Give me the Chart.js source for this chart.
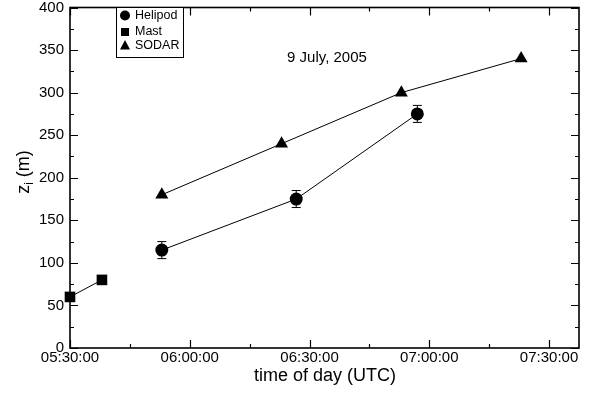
<!DOCTYPE html>
<html lang="en">
<head>
  <meta charset="UTF-8">
  <title>Boundary layer height, 9 July 2005</title>
  <script src="https://cdn.jsdelivr.net/npm/chart.js"></script>
  <style>
    html, body { margin: 0; padding: 0; background: #fff; }
    #wrap { width: 594px; height: 397px; }
  </style>
</head>
<body>
  <div id="wrap"><canvas id="ziChart" width="594" height="397"></canvas></div>

  <script>
    // values (time of day, z_i in m)
    const helipodTimes = ['05:53', '06:26:40', '06:57'];
    const helipodZ = [115, 175, 275];
    const helipodErr = [10, 10, 10];

    const mastTimes = ['05:30', '05:38'];
    const mastZ = [60, 80];

    const sodarTimes = ['05:53', '06:23', '06:53', '07:23'];
    const sodarZ = [180, 240, 300, 340];

    const xTickLabels = ['05:30:00', '06:00:00', '06:30:00', '07:00:00', '07:30:00'];
    const yTickValues = [0, 50, 100, 150, 200, 250, 300, 350, 400];

    // time string -> minutes after midnight
    function toMin(s) {
      const p = s.split(':').map(Number);
      return p[0] * 60 + p[1] + (p[2] || 0) / 60;
    }
    function fmt(m) {
      const h = Math.floor(m / 60), mm = Math.round(m % 60);
      return String(h).padStart(2, '0') + ':' + String(mm).padStart(2, '0') + ':00';
    }
    const pts = (times, vals) => times.map((t, i) => ({ x: toMin(t), y: vals[i] }));

    const FONT = '"Liberation Sans", Arial, Helvetica, sans-serif';

    const decor = {
      id: 'decor',
      beforeDatasetsDraw(chart) {
        // error bars for the helipod
        const ctx = chart.ctx, xs = chart.scales.x, ys = chart.scales.y;
        ctx.save();
        ctx.strokeStyle = '#000';
        ctx.lineWidth = 1;
        helipodTimes.forEach((t, i) => {
          const x = xs.getPixelForValue(toMin(t));
          const y1 = ys.getPixelForValue(helipodZ[i] - helipodErr[i]);
          const y2 = ys.getPixelForValue(helipodZ[i] + helipodErr[i]);
          ctx.beginPath();
          ctx.moveTo(x, y1); ctx.lineTo(x, y2);
          ctx.moveTo(x - 4.5, y1); ctx.lineTo(x + 4.5, y1);
          ctx.moveTo(x - 4.5, y2); ctx.lineTo(x + 4.5, y2);
          ctx.stroke();
        });
        ctx.restore();
      },
      afterDraw(chart) {
        const ctx = chart.ctx, a = chart.chartArea;
        const xs = chart.scales.x, ys = chart.scales.y;
        ctx.save();
        ctx.strokeStyle = '#000';
        ctx.lineWidth = 1.2;

        // inward ticks on all four sides
        ctx.beginPath();
        for (let v = 0; v <= 400; v += 25) {
          const y = Math.round(ys.getPixelForValue(v)) + 0.5;
          const len = v % 50 === 0 ? 8 : 4;
          ctx.moveTo(a.left, y); ctx.lineTo(a.left + len, y);
          ctx.moveTo(a.right, y); ctx.lineTo(a.right - len, y);
        }
        for (let m = 330; m <= 457.5; m += 15) {
          const x = Math.round(xs.getPixelForValue(m)) + 0.5;
          const len = (m - 330) % 30 === 0 ? 8 : 4;
          ctx.moveTo(x, a.bottom); ctx.lineTo(x, a.bottom - len);
          ctx.moveTo(x, a.top); ctx.lineTo(x, a.top + len);
        }
        ctx.stroke();

        // frame
        ctx.lineWidth = 1.6;
        ctx.strokeRect(a.left, a.top, a.right - a.left, a.bottom - a.top);

        // legend box
        const lx = 116, ly = a.top, lw = 67, lh = 50;
        ctx.fillStyle = '#fff';
        ctx.fillRect(lx, ly, lw, lh);
        ctx.lineWidth = 1;
        ctx.strokeRect(lx + 0.5, ly, lw, lh);
        const rows = [15.5, 32, 45.5];
        chart.data.datasets.forEach((ds, i) => {
          const y = rows[i];
          ctx.fillStyle = '#000';
          ctx.beginPath();
          if (ds.pointStyle === 'circle') {
            ctx.arc(125, y, 5, 0, Math.PI * 2);
          } else if (ds.pointStyle === 'rect') {
            ctx.rect(121, y - 4, 8, 8);
          } else {
            ctx.moveTo(125, y - 5.5); ctx.lineTo(130, y + 4); ctx.lineTo(120, y + 4); ctx.closePath();
          }
          ctx.fill();
          ctx.font = '12.5px ' + FONT;
          ctx.textAlign = 'left';
          ctx.textBaseline = 'middle';
          ctx.fillText(ds.label, 135, y);
        });

        // annotation
        ctx.fillStyle = '#000';
        ctx.font = '15px ' + FONT;
        ctx.textAlign = 'center';
        ctx.textBaseline = 'middle';
        ctx.fillText('9 July, 2005', 327, 58);

        // axis titles
        ctx.font = '18px ' + FONT;
        ctx.fillText('time of day (UTC)', 325, 376);

        ctx.translate(24, 172);
        ctx.rotate(-Math.PI / 2);
        ctx.textAlign = 'left';
        const w1 = ctx.measureText('z').width;
        ctx.font = '12px ' + FONT;
        const w2 = ctx.measureText('i').width;
        ctx.font = '18px ' + FONT;
        const w3 = ctx.measureText(' (m)').width;
        let x0 = -(w1 + w2 + w3) / 2;
        ctx.fillText('z', x0, 0);
        ctx.font = '12px ' + FONT;
        ctx.fillText('i', x0 + w1, 6);
        ctx.font = '18px ' + FONT;
        ctx.fillText(' (m)', x0 + w1 + w2, 0);
        ctx.restore();
      }
    };

    new Chart(document.getElementById('ziChart'), {
      type: 'line',
      data: {
        datasets: [
          {
            label: 'Helipod',
            data: pts(helipodTimes, helipodZ),
            pointStyle: 'circle',
            pointRadius: 6.5
          },
          {
            label: 'Mast',
            data: pts(mastTimes, mastZ),
            pointStyle: 'rect',
            pointRadius: 7.5
          },
          {
            label: 'SODAR',
            data: pts(sodarTimes, sodarZ),
            pointStyle: 'triangle',
            pointRadius: 7.5
          }
        ].map(ds => Object.assign(ds, {
          borderColor: '#000',
          backgroundColor: '#000',
          pointBackgroundColor: '#000',
          pointBorderColor: '#000',
          pointBorderWidth: 0,
          borderWidth: 1,
          tension: 0,
          fill: false,
          clip: false
        }))
      },
      options: {
        responsive: false,
        animation: false,
        events: [],
        layout: { padding: { left: 0, right: 15, top: 5, bottom: 0 } },
        plugins: {
          legend: { display: false },
          tooltip: { enabled: false }
        },
        scales: {
          x: {
            type: 'linear',
            min: 330,
            max: 457.5,
            grid: { display: false, drawTicks: false },
            border: { display: false },
            afterBuildTicks: s => { s.ticks = xTickLabels.map(t => ({ value: toMin(t) })); },
            afterFit: s => { s.height = 49; s.paddingLeft = 0; s.paddingRight = 0; },
            ticks: {
              padding: 1,
              maxRotation: 0,
              autoSkip: false,
              color: '#000',
              font: { family: FONT, size: 15 },
              callback: v => fmt(v)
            }
          },
          y: {
            min: 0,
            max: 400,
            grid: { display: false, drawTicks: false },
            border: { display: false },
            afterBuildTicks: s => { s.ticks = yTickValues.map(v => ({ value: v })); },
            afterFit: s => { s.width = 70; s.paddingTop = 0; s.paddingBottom = 0; },
            ticks: {
              padding: 6,
              autoSkip: false,
              color: '#000',
              font: { family: FONT, size: 15 }
            }
          }
        }
      },
      plugins: [decor]
    });
  </script>
</body>
</html>
